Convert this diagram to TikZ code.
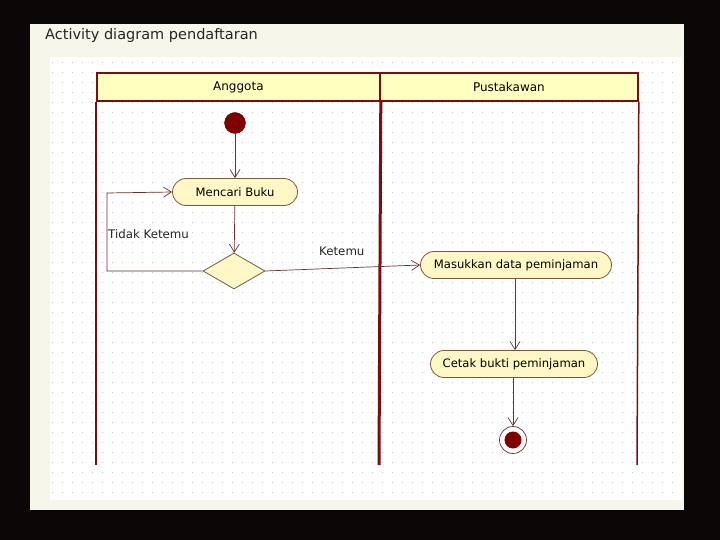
\documentclass[tikz,border=0pt]{standalone}
\usepackage{fontspec}
\setmainfont{DejaVu Sans}
\usetikzlibrary{arrows.meta,shapes.geometric}
\definecolor{bgdark}{HTML}{0B0707}
\definecolor{panel}{HTML}{F6F6EA}
\definecolor{lane}{HTML}{7A0E0E}
\definecolor{hdr}{HTML}{FFFFC0}
\definecolor{actfill}{HTML}{FFF8C6}
\definecolor{actdraw}{HTML}{7A5A3A}
\definecolor{edgec}{HTML}{6A3030}
\definecolor{dotc}{HTML}{C4C4C4}
\definecolor{startc}{HTML}{800000}
\begin{document}
\begin{tikzpicture}[x=1pt,y=-1pt,
  lbl/.style={font=\fontsize{11.8}{13}\selectfont, text=black!85, inner sep=0pt},
  act/.style={draw=actdraw, fill=actfill, rounded corners=13.5pt, minimum height=27pt, line width=0.8pt, inner sep=0pt, font=\fontsize{11.6}{13}\selectfont},
  flow/.style={draw=edgec, line width=0.7pt, -{Straight Barb[length=8pt,width=10pt,line width=0.7pt]}},
  hdrbox/.style={draw=lane, fill=hdr, line width=1.8pt, minimum height=28pt, inner sep=0pt, anchor=north west, font=\fontsize{12}{13}\selectfont},
  lanebar/.style={draw=lane, line width=1.5pt}]
\useasboundingbox (0,0) rectangle (720,540);
\fill[bgdark] (0,0) rectangle (720,540);
\fill[panel] (30,24) rectangle (684,510);
\fill[white] (50,57) rectangle (682,500);
\foreach \yy in {62,72,...,498}
  \draw[dotc, line width=0.9pt, dash pattern=on 0.9pt off 9.1pt] (52,\yy) -- (682,\yy);
\node[anchor=west, inner sep=0pt, font=\fontsize{14.5}{16}\selectfont, text=black!85] (title) at (45,36) {Activity diagram pendaftaran};
% swimlanes
\node[hdrbox, minimum width=283pt] (h1) at (96,72) {Anggota};
\node[hdrbox, minimum width=258pt] (h2) at (379,72) {Pustakawan};
\coordinate (l1b) at (96,465);
\coordinate (l2b) at (379,465);
\coordinate (l3b) at (637,465);
\draw[lanebar] (h1.south west) -- (l1b);
\draw[draw=lane, line width=3pt] (h1.south east) -- (l2b);
\draw[lanebar] (h2.south east) -- (l3b);
% nodes
\node[circle, fill=startc, draw=startc!80!black, minimum size=21pt, inner sep=0pt] (start) at (235,123) {};
\node[act, minimum width=125pt] (cari) at (235,192) {Mencari Buku};
\node[diamond, draw=actdraw, fill=actfill, line width=0.8pt, minimum width=62pt, minimum height=36pt, inner sep=0pt, aspect=1.7] (dec) at (234,271) {};
\node[act, minimum width=191pt] (masuk) at (516,265) {Masukkan data peminjaman};
\node[act, minimum width=167pt] (cetak) at (514,364) {Cetak bukti peminjaman};
\node[circle, draw=edgec, fill=white, line width=0.7pt, minimum size=27pt, inner sep=0pt] (end) at (513,440) {};
\node[circle, fill=startc, minimum size=17pt, inner sep=0pt] (endin) at (end.center) {};
\coordinate (c1) at (107,271);
\coordinate (c2) at (107,193);
% edges
\draw[flow] (start) -- (cari);
\draw[flow] (cari) -- (dec);
\draw[flow] (dec.west) -- (c1) -- (c2) -- (cari.west);
\draw[flow] (dec.east) -- (masuk.west);
\draw[flow] (masuk.south -| 515,0) -- (cetak.north -| 515,0);
\draw[flow] (cetak.south -| 513,0) -- (end.north);
\node[lbl, anchor=west] (tk) at (108,234) {Tidak Ketemu};
\node[lbl, anchor=west] (k) at (319,251) {Ketemu};
\end{tikzpicture}
\end{document}
